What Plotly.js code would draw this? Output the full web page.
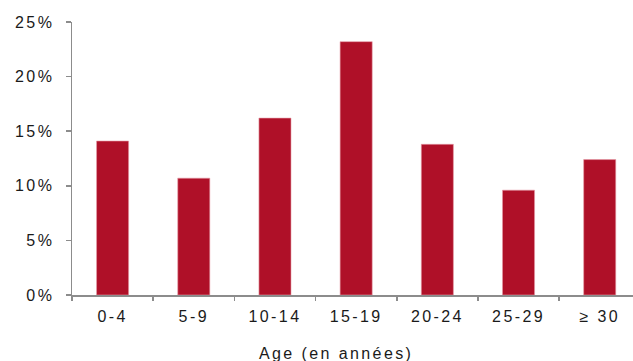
<!DOCTYPE html>
<html>
<head>
<meta charset="utf-8">
<script src="https://cdn.plot.ly/plotly-3.0.1.min.js"></script>
<style>
  html, body { margin: 0; padding: 0; background: #fff; }
  #chart { width: 633px; height: 361px; }
  /* wide, airy lettering for the axis labels */
  #chart .xtick text, #chart .ytick text, #chart .annotation-text { letter-spacing: 2.4px; }
</style>
</head>
<body>
<div id="chart"></div>
<script>
// Share of cases by age group (percent)
const ageGroups = ['0-4', '5-9', '10-14', '15-19', '20-24', '25-29', '\u2265 30'];
const shares = [14.1, 10.7, 16.2, 23.2, 13.8, 9.6, 12.4];
const axisTitle = 'Age (en années)';

const barColor = '#AF1028';
const axisColor = '#8c8c8c';
const textFont = { family: 'Liberation Sans, Arial, sans-serif', size: 16, color: '#1a1a1a' };

const trace = {
  type: 'bar',
  x: ageGroups,
  y: shares,
  marker: { color: barColor, line: { color: '#e59aa6', width: 0.6 } },
  hoverinfo: 'x+y'
};

const layout = {
  width: 633,
  height: 361,
  margin: { l: 72, r: 0, t: 22, b: 66, pad: 0 },
  paper_bgcolor: '#fff',
  plot_bgcolor: '#fff',
  showlegend: false,
  bargap: 0.605,
  font: textFont,
  xaxis: {
    type: 'category',
    range: [-0.5, 6.41],
    showline: true,
    linecolor: axisColor,
    linewidth: 1.5,
    ticks: 'outside',
    tickson: 'boundaries',
    ticklen: 4,
    tickwidth: 1.5,
    tickcolor: axisColor,
    showgrid: false,
    zeroline: false,
    tickfont: textFont,
    ticklabelstandoff: 6
  },
  yaxis: {
    range: [0, 25],
    tickmode: 'linear',
    tick0: 0,
    dtick: 5,
    ticksuffix: '%',
    showline: true,
    linecolor: axisColor,
    linewidth: 1.5,
    ticks: 'outside',
    ticklen: 5,
    tickwidth: 1.5,
    tickcolor: axisColor,
    showgrid: false,
    zeroline: false,
    tickfont: textFont,
    ticklabelstandoff: 8
  },
  annotations: [{
    text: axisTitle,
    xref: 'paper', yref: 'paper',
    x: 0.4706, y: -0.175,
    xanchor: 'center', yanchor: 'top',
    showarrow: false,
    font: textFont
  }]
};

Plotly.newPlot('chart', [trace], layout, { staticPlot: true, displayModeBar: false });
</script>
</body>
</html>
